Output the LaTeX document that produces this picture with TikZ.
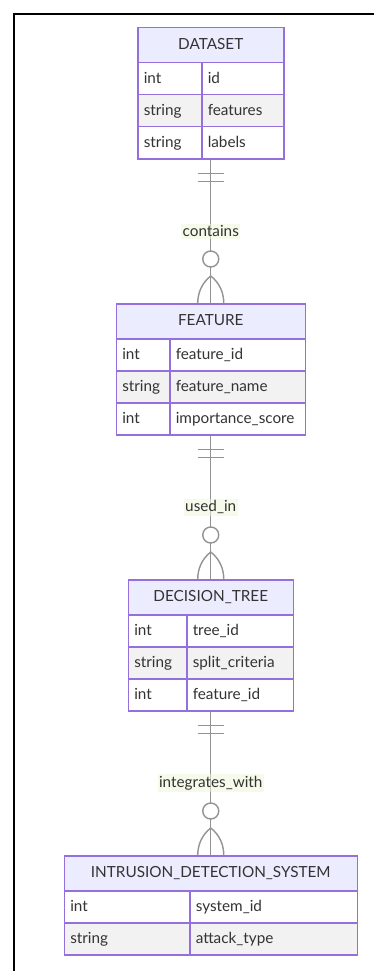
\documentclass[tikz,border=0pt]{standalone}
\usepackage{fontspec}
\setmainfont{Lato}
\usetikzlibrary{calc}

\definecolor{erborder}{HTML}{9370DB}
\definecolor{erhead}{HTML}{ECECFF}
\definecolor{eralt}{HTML}{F2F2F2}
\definecolor{ertext}{HTML}{333333}
\definecolor{erline}{HTML}{939393}
\definecolor{erlabel}{HTML}{EEF5D8}

% one attribute row: type cell and name cell
% #1 prefix, #2 left x, #3 divider x, #4 right x, #5 top y, #6 fill, #7 type, #8 name
\newcommand{\errow}[8]{%
  \pgfmathsetmacro{\wa}{#3-#2}%
  \pgfmathsetmacro{\wb}{#4-#3}%
  \node[cell, fill=#6, text width=\wa pt-12pt] (#1t) at (#2,#5) {#7};
  \node[cell, fill=#6, text width=\wb pt-12pt] (#1n) at (#3,#5) {#8};
}

% relationship: #1 upper entity bottom, #2 lower entity header, #3 label
\newcommand{\errel}[3]{%
  \draw[conn] (#1) -- (#2.north) node[midway, lbl] {#3};
  % exactly one
  \draw[conn] ($(#1)+(-13,14)$) -- ($(#1)+(13,14)$);
  \draw[conn] ($(#1)+(-13,22)$) -- ($(#1)+(13,22)$);
  % zero or more
  \draw[conn] ($(#2.north)+(0,-27)$) .. controls ($(#2.north)+(-9,-20)$) and ($(#2.north)+(-13,-10)$) .. ($(#2.north)+(-13,0)$);
  \draw[conn] ($(#2.north)+(0,-27)$) .. controls ($(#2.north)+(9,-20)$) and ($(#2.north)+(13,-10)$) .. ($(#2.north)+(13,0)$);
  \draw[conn, fill=white] ($(#2.north)+(0,-44)$) circle (8);
}

\begin{document}
\begin{tikzpicture}[x=1pt,y=-1pt,
  txt/.style={text=ertext, font=\fontsize{15.3}{17}\selectfont},
  head/.style={txt, draw=erborder, fill=erhead, line width=1.5pt,
    minimum height=35pt, inner sep=0pt, anchor=north west,
    text height=11.5pt, text depth=2.5pt},
  cell/.style={txt, draw=erborder, line width=1.5pt, minimum height=32pt,
    inner ysep=0pt, inner xsep=6pt, align=left, anchor=north west,
    text height=12pt, text depth=2.5pt},
  conn/.style={draw=erline, line width=1.4pt},
  lbl/.style={txt, fill=erlabel, fill opacity=0.55, text opacity=1,
    inner xsep=1.5pt, inner ysep=2pt},
  frame/.style={draw=black, line width=2pt}
]
\useasboundingbox (0,0) rectangle (374,971);

% outer frame (runs past the right and bottom edges)
\draw[frame] (14,980) -- (14,14) -- (380,14);

% ---------------- DATASET ----------------
\node[head, minimum width=146pt] (ds-h) at (137,27) {DATASET};
\errow{ds-a}{137}{201}{283}{62}{white}{int}{id}
\errow{ds-b}{137}{201}{283}{94}{eralt}{string}{features}
\errow{ds-c}{137}{201}{283}{126}{white}{string}{labels}
\coordinate (ds-bot) at ($(ds-ct.south west)!0.5!(ds-cn.south east)$);

% ---------------- FEATURE ----------------
\node[head, minimum width=189pt] (ft-h) at (115.5,303) {FEATURE};
\errow{ft-a}{115.5}{169}{304.5}{338}{white}{int}{feature\_id}
\errow{ft-b}{115.5}{169}{304.5}{370}{eralt}{string}{feature\_name}
\errow{ft-c}{115.5}{169}{304.5}{402}{white}{int}{importance\_score}
\coordinate (ft-bot) at ($(ft-ct.south west)!0.5!(ft-cn.south east)$);

% ---------------- DECISION_TREE ----------------
\node[head, minimum width=165pt] (dt-h) at (127.5,579) {DECISION\_TREE};
\errow{dt-a}{127.5}{186}{292.5}{614}{white}{int}{tree\_id}
\errow{dt-b}{127.5}{186}{292.5}{646}{eralt}{string}{split\_criteria}
\errow{dt-c}{127.5}{186}{292.5}{678}{white}{int}{feature\_id}
\coordinate (dt-bot) at ($(dt-ct.south west)!0.5!(dt-cn.south east)$);

% ---------------- INTRUSION_DETECTION_SYSTEM ----------------
\node[head, minimum width=293pt] (ids-h) at (63.5,855) {INTRUSION\_DETECTION\_SYSTEM};
\errow{ids-a}{63.5}{189}{356.5}{890}{white}{int}{system\_id}
\errow{ids-b}{63.5}{189}{356.5}{922}{eralt}{string}{attack\_type}

% ---------------- relationships ----------------
\errel{ds-bot}{ft-h}{contains}
\errel{ft-bot}{dt-h}{used\_in}
\errel{dt-bot}{ids-h}{integrates\_with}
\end{tikzpicture}
\end{document}
